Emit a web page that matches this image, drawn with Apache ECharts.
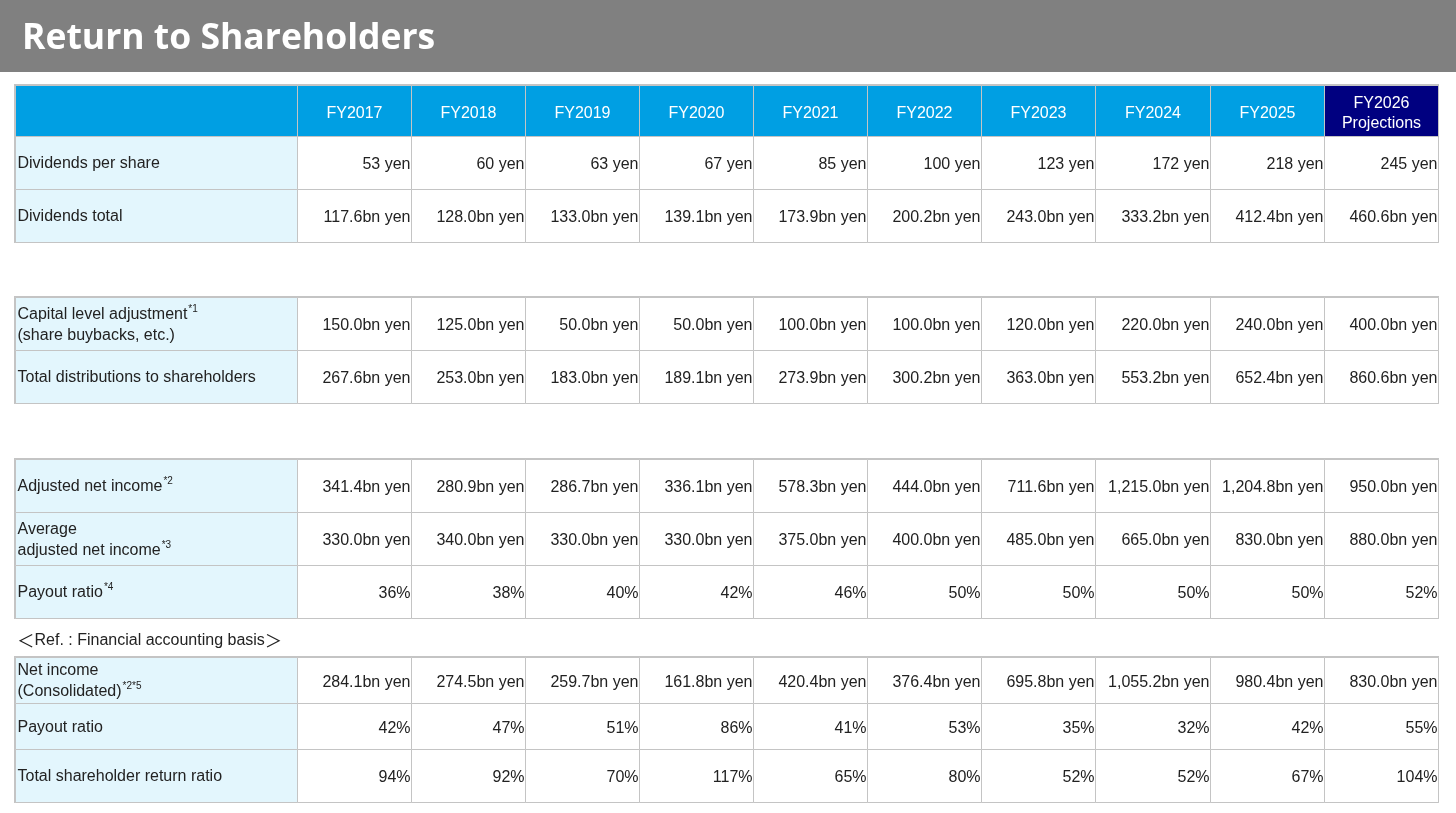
<!DOCTYPE html>
<html>
<head>
<meta charset="utf-8">
<title>Return to Shareholders</title>
<script src="https://cdn.jsdelivr.net/npm/echarts@6.0.0/dist/echarts.min.js"></script>
<style>
  html, body { margin: 0; padding: 0; background: #fff; }
  #main { width: 1456px; height: 813px; }
</style>
</head>
<body>
<div id="main"></div>
<script>
// column headers
var years = ['FY2017', 'FY2018', 'FY2019', 'FY2020', 'FY2021', 'FY2022', 'FY2023', 'FY2024', 'FY2025', 'FY2026\nProjections'];

var dividendsPerShare = [53, 60, 63, 67, 85, 100, 123, 172, 218, 245];
var dividendsTotal = [117.6, 128.0, 133.0, 139.1, 173.9, 200.2, 243.0, 333.2, 412.4, 460.6];
var capitalAdjustment = [150.0, 125.0, 50.0, 50.0, 100.0, 100.0, 120.0, 220.0, 240.0, 400.0];
var totalDistributions = [267.6, 253.0, 183.0, 189.1, 273.9, 300.2, 363.0, 553.2, 652.4, 860.6];
var adjustedNetIncome = [341.4, 280.9, 286.7, 336.1, 578.3, 444.0, 711.6, 1215.0, 1204.8, 950.0];
var avgAdjustedNetIncome = [330.0, 340.0, 330.0, 330.0, 375.0, 400.0, 485.0, 665.0, 830.0, 880.0];
var payoutRatioAdjusted = [36, 38, 40, 42, 46, 50, 50, 50, 50, 52];
var netIncome = [284.1, 274.5, 259.7, 161.8, 420.4, 376.4, 695.8, 1055.2, 980.4, 830.0];
var payoutRatioNet = [42, 47, 51, 86, 41, 53, 35, 32, 42, 55];
var totalReturnRatio = [94, 92, 70, 117, 65, 80, 52, 52, 67, 104];

var FONT = '"Liberation Sans", Arial, sans-serif';
var BORDER = '#c4c4c4';
var HEAD_BLUE = '#009fe3';
var NAVY = '#000080';
var LABEL_BG = '#e3f6fd';
var LINE_H = 21;
var HEAD_H = 51;

function yen(v) { return v + ' yen'; }
function bn(v) {
	return v.toLocaleString('en-US', { minimumFractionDigits: 1, maximumFractionDigits: 1 }) + 'bn yen';
}
function pct(v) { return v + '%'; }

var rich = {
	s: { fontSize: 10, fontFamily: FONT, color: '#222', verticalAlign: 'top', padding: [0, 0, 10, 1] }
};

// rich text sits at the top of the cell box, so centre it with padding
function padFor(h, text, lh) {
	var lines = text.split('\n').length;
	return Math.max(0, Math.round((h - lines * lh) / 2) + 2);
}

// body cells: column 0 holds the row label, columns 1..10 the values
function bodyData(rows, rowH) {
	var out = [];
	rows.forEach(function (r, j) {
		var h = r.size || rowH;
		out.push({
			coord: [0, j],
			value: r.label,
			itemStyle: { color: LABEL_BG },
			label: {
				position: 'insideLeft', align: 'left',
				padding: [padFor(h, r.label, LINE_H) - 1, 0, 0, 2]
			}
		});
		r.values.forEach(function (v, i) {
			var txt = r.fmt(v);
			out.push({
				coord: [i + 1, j],
				value: txt,
				label: { padding: [padFor(h, txt, LINE_H), 1, 0, 0] }
			});
		});
	});
	return out;
}

function makeMatrix(rows, top, height, showHeader) {
	var cols = [{ value: ' ', size: 282 }].concat(years.map(function (y, i) {
		var item = { value: y, label: { padding: [padFor(HEAD_H, y, 20), 0, 0, 0] } };
		if (i === years.length - 1) {
			item.itemStyle = { color: NAVY };
		}
		return item;
	}));
	var rowH = (showHeader ? height - HEAD_H : height) / rows.length;
	return {
		left: 15,
		right: 18,
		top: top,
		height: height,
		x: {
			show: showHeader,
			levelSize: HEAD_H,
			data: cols,
			itemStyle: { color: HEAD_BLUE, borderColor: BORDER, borderWidth: 1 },
			label: { color: '#fff', fontSize: 16, fontFamily: FONT, lineHeight: 20, verticalAlign: 'middle', rich: { n: {} } },
			dividerLineStyle: { color: BORDER, width: 1 }
		},
		y: {
			show: false,
			data: rows.map(function (r) {
				var item = { value: r.key };
				if (r.size) item.size = r.size;
				return item;
			})
		},
		body: {
			data: bodyData(rows, rowH),
			itemStyle: { color: '#fff', borderColor: BORDER, borderWidth: 1 },
			label: {
				color: '#222', fontSize: 16, fontFamily: FONT, lineHeight: LINE_H,
				position: 'insideRight', distance: 0, align: 'right', verticalAlign: 'middle',
				rich: rich
			},
			splitLineStyle: { color: BORDER, width: 1 }
		},
		backgroundStyle: { borderColor: BORDER, borderWidth: 2 },
		borderZ2: 10
	};
}

var group1 = [
	{ key: 'dps', label: 'Dividends per share', values: dividendsPerShare, fmt: yen },
	{ key: 'dt', label: 'Dividends total', values: dividendsTotal, fmt: bn }
];
var group2 = [
	{ key: 'cla', label: 'Capital level adjustment{s|*1}\n(share buybacks, etc.)', values: capitalAdjustment, fmt: bn },
	{ key: 'td', label: 'Total distributions to shareholders', values: totalDistributions, fmt: bn }
];
var group3 = [
	{ key: 'ani', label: 'Adjusted net income{s|*2}', values: adjustedNetIncome, fmt: bn },
	{ key: 'aani', label: 'Average\nadjusted net income{s|*3}', values: avgAdjustedNetIncome, fmt: bn },
	{ key: 'pra', label: 'Payout ratio{s|*4}', values: payoutRatioAdjusted, fmt: pct }
];
var group4 = [
	{ key: 'ni', label: 'Net income\n(Consolidated){s|*2*5}', values: netIncome, fmt: bn, size: 46 },
	{ key: 'prn', label: 'Payout ratio', values: payoutRatioNet, fmt: pct, size: 46 },
	{ key: 'tsr', label: 'Total shareholder return ratio', values: totalReturnRatio, fmt: pct, size: 53 }
];

var chart = echarts.init(document.getElementById('main'));

var option = {
	backgroundColor: '#fff',
	animation: false,
	title: [{
		text: 'Return to Shareholders',
		left: 17,
		top: 16,
		textStyle: { color: '#fff', fontSize: 35.5, fontWeight: 'bold', fontFamily: '"Open Sans", "Noto Sans", sans-serif' }
	}, {
		text: '{b|＜}Ref. : Financial accounting basis{b|＞}',
		left: 12,
		top: 627,
		textStyle: {
			color: '#222', fontSize: 16, fontWeight: 'normal', fontFamily: FONT,
			rich: { b: { fontSize: 17.5, fontFamily: '"Noto Sans CJK JP", sans-serif', color: '#222' } }
		}
	}],
	graphic: [{
		type: 'rect',
		z: -1,
		shape: { x: 0, y: 0, width: chart.getWidth(), height: 72 },
		style: { fill: '#808080' }
	}],
	matrix: [
		makeMatrix(group1, 85, 157, true),
		makeMatrix(group2, 297, 106, false),
		makeMatrix(group3, 459, 159, false),
		makeMatrix(group4, 657, 145, false)
	]
};

chart.setOption(option);
</script>
</body>
</html>
